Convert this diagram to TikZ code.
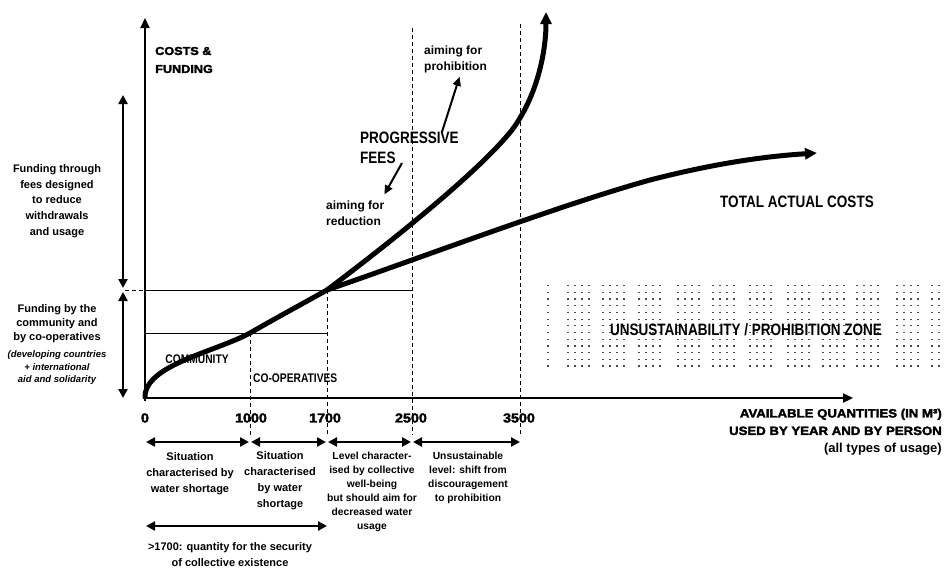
\documentclass[tikz,border=0pt]{standalone}
\usepackage{fontspec}
\setmainfont{Liberation Sans}
\newfontfamily\narrowfont[FakeStretch=0.82]{Liberation Sans}
\newfontfamily\heavyfont[FakeStretch=1.1,FakeBold=2.5]{Liberation Sans Bold}
\usepackage{tikz}
\usetikzlibrary{arrows.meta,positioning,calc}

\begin{document}
\begin{tikzpicture}[x=1pt, y=-1pt,
    mainaxis/.style={line width=2.2pt, -{Triangle[length=10pt,width=9pt]}},
    costcurve/.style={line width=5pt, line cap=round},
    curvetip/.style={-{Triangle[length=12pt,width=11pt]}},
    guide/.style={line width=1pt, dash pattern=on 4pt off 3pt},
    thinrule/.style={line width=1pt},
    spanarrow/.style={line width=2.4pt, {Triangle[length=9pt,width=9pt]}-{Triangle[length=9pt,width=9pt]}},
    pointer/.style={line width=2pt, -{Triangle[length=9pt,width=8pt]}},
    zonedots/.style={line width=1.2pt, black!70, dash pattern=on 1.2pt off 5.5pt},
    lefttxt/.style={align=center, inner sep=0pt, font=\bfseries\fontsize{11}{15.7}\selectfont},
    bottomtxt/.style={align=center, inner sep=0pt, font=\bfseries\fontsize{11}{16}\selectfont},
    smalltxt/.style={align=center, inner sep=0pt, font=\bfseries\fontsize{10.3}{14}\selectfont},
    heavytxt/.style={inner sep=0pt, font=\heavyfont\fontsize{11.5}{18}\selectfont},
    bigtxt/.style={inner sep=0pt, font=\narrowfont\bfseries\fontsize{16.5}{19.5}\selectfont},
    aimtxt/.style={align=left, inner sep=0pt, font=\bfseries\fontsize{12}{16}\selectfont}]
\useasboundingbox (0,0) rectangle (945,570);

% dashed guides and thin levels
\draw[guide] (250,333) -- (250,435);
\draw[guide] (327,290) -- (327,435);
\draw[guide] (412,28) -- (412,435);
\draw[guide] (520,24) -- (520,435);
\draw[thinrule] (145,333) -- (327,333);
\draw[thinrule] (145,290) -- (412,290);
\draw[guide] (125,290) -- (145,290);

% dotted zone
\draw[zonedots] (548,285) -- (548,372);
\foreach \gx in {568,603,639,678,713,750,788,823,857,897}
    \foreach \dx in {0,7,14,21}
        \draw[zonedots] (\gx+\dx,285) -- (\gx+\dx,372);
\draw[zonedots] (932,285) -- (932,372);
\draw[zonedots] (939,285) -- (939,372);
\node[bigtxt] (zone) at (746,330) {UNSUSTAINABILITY / PROHIBITION ZONE};

% axes
\draw[mainaxis] (145,401) -- (145,18);
\draw[mainaxis] (143,398) -- (853,398);
\node[heavytxt, align=left, anchor=west] (costs) at (155,60) {COSTS \&\\FUNDING};
\node[heavytxt, align=right, anchor=east, font=\heavyfont\fontsize{12}{17.5}\selectfont] (quant) at (942,432)
    {AVAILABLE QUANTITIES (IN M³)\\USED BY YEAR AND BY PERSON\\{\normalfont\bfseries\fontsize{13}{17}\selectfont (all types of usage)}};
\foreach \val/\px in {0/145,1000/251,1700/325,2500/411,3500/519}
    \node[heavytxt, font=\heavyfont\fontsize{13}{15}\selectfont] (tick\val) at (\px,418) {\val};

% curves
\coordinate (split) at (327,290);
\draw[costcurve] (145,397) .. controls (145,365) and (215,352) .. (250,333)
    .. controls (276,318) and (302,304) .. (split);
\draw[costcurve, curvetip] (split) .. controls (400,235) and (480,170) .. (512,130)
    .. controls (538,95) and (546,50) .. (546,12);
\draw[costcurve, curvetip] (split) .. controls (420,258) and (560,205) .. (650,180)
    .. controls (720,162) and (770,156) .. (817,153);

\node[bigtxt, align=left, anchor=west] (progfees) at (360,148) {PROGRESSIVE\\FEES};
\node[aimtxt, anchor=west] (prohib) at (424,59) {aiming for\\prohibition};
\node[aimtxt, anchor=west] (reduce) at (326,213) {aiming for\\reduction};
\node[bigtxt] (total) at (797,202) {TOTAL ACTUAL COSTS};
\node[bigtxt, font=\narrowfont\bfseries\fontsize{12.5}{14}\selectfont] (community) at (197,359) {COMMUNITY};
\node[bigtxt, font=\narrowfont\bfseries\fontsize{12.5}{14}\selectfont, anchor=west] (coop) at (253,378) {CO-OPERATIVES};
\coordinate (feestail) at (402,163);
\draw[pointer] ([xshift=-17pt]progfees.north east) -- ([xshift=4pt,yshift=-4pt]prohib.south);
\draw[pointer] (feestail) -- ([yshift=6pt]reduce.north east);

% funding spans on the left
\draw[spanarrow] (123,95) -- (123,288);
\draw[spanarrow] (123,292) -- (123,398);
\node[lefttxt] (feesnote) at (57,201) {Funding through\\fees designed\\to reduce\\withdrawals\\and usage};
\node[lefttxt, font=\bfseries\fontsize{11}{14}\selectfont] (commnote) at (57,324) {Funding by the\\community and\\by co-operatives};
\node[lefttxt, font=\bfseries\itshape\fontsize{9.5}{12.5}\selectfont] (aidnote) at (57,368) {(developing countries\\+ international\\aid and solidarity};

% quantity spans below the axis
\draw[spanarrow] (146,442) -- (249,442);
\draw[spanarrow] (251,442) -- (326,442);
\draw[spanarrow] (328,442) -- (411,442);
\draw[spanarrow] (413,442) -- (520,442);
\draw[spanarrow] (146,526) -- (327,526);
\node[bottomtxt] (short1) at (190,474) {Situation\\characterised by\\water shortage};
\node[bottomtxt] (short2) at (280,481) {Situation\\characterised\\by water\\shortage};
\node[smalltxt] (level) at (372,492) {Level character-\\ised by collective\\well-being\\but should aim for\\decreased water\\usage};
\node[smalltxt] (unsust) at (468,478) {Unsustainable\\level: shift from\\discouragement\\to prohibition};
\node[bottomtxt] (secure) at (230,555) {>1700: quantity for the security\\of collective existence};
\end{tikzpicture}
\end{document}
